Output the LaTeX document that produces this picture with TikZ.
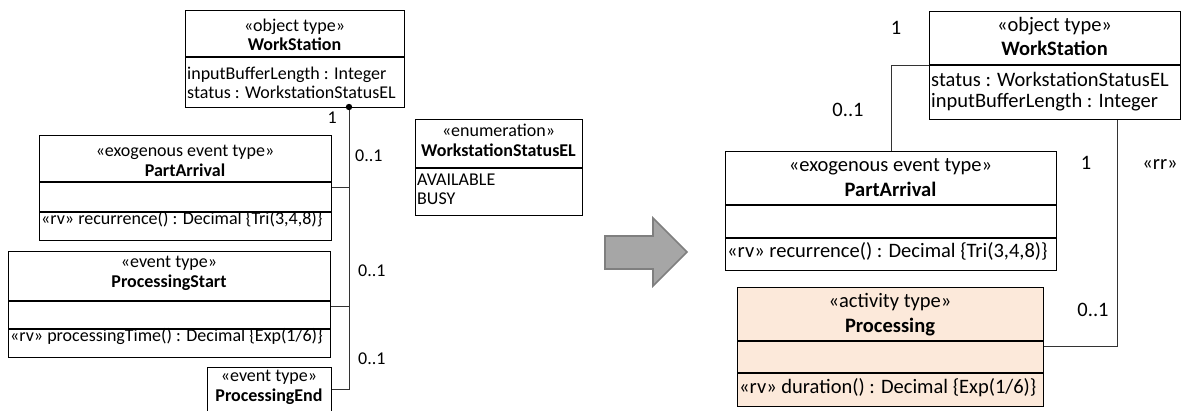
\documentclass[tikz,border=0pt]{standalone}
\usepackage{fontspec}
\setmainfont{Carlito}
\definecolor{peach}{HTML}{FCE9DA}
\definecolor{arrfill}{HTML}{A6A6A6}
\definecolor{arredge}{HTML}{7F7F7F}
\begin{document}
\begin{tikzpicture}[x=1pt,y=-1pt,
  box/.style={draw=black, line width=1.2pt, inner sep=0pt, anchor=north west},
  divline/.style={draw=black, line width=1.2pt},
  conn/.style={draw=black!80, line width=0.9pt},
  lf/.style={font=\fontsize{18}{19}\selectfont},
  rf/.style={font=\fontsize{20.5}{21}\selectfont},
  ct/.style={inner sep=0pt, anchor=base},
  lt/.style={inner sep=0pt, anchor=base west},
  lab/.style={inner sep=0pt, anchor=base}]
\useasboundingbox (0,0) rectangle (1181,411);

% ---------- left side ----------
% WorkStation
\node[box, minimum width=219pt, minimum height=97pt] (ws1) at (185,10) {};
\draw[divline] (185,57) -- (404,57);
\node[ct,lf] (ws1s) at (294.5,32) {«object type»};
\node[ct,lf] (ws1n) at (294.5,51) {\bfseries WorkStation};
\node[lt,lf] (ws1a) at (187,80) {inputBufferLength : Integer};
\node[lt,lf] (ws1b) at (187,99) {status : WorkstationStatusEL};

% PartArrival
\node[box, minimum width=292pt, minimum height=105pt] (pa1) at (39,135) {};
\draw[divline] (39,182) -- (331,182);
\draw[divline] (39,212) -- (331,212);
\node[ct,lf] (pa1s) at (185,157) {«exogenous event type»};
\node[ct,lf] (pa1n) at (185,177) {\bfseries PartArrival};
\node[lt,lf] (pa1o) at (41,225) {«rv» recurrence() : Decimal \{Tri(3,4,8)\}};

% ProcessingStart
\node[box, minimum width=322pt, minimum height=106pt] (ps1) at (8,251) {};
\draw[divline] (8,301) -- (330,301);
\draw[divline] (8,329) -- (330,329);
\node[ct,lf] (ps1s) at (169,268) {«event type»};
\node[ct,lf] (ps1n) at (169,288) {\bfseries ProcessingStart};
\node[lt,lf] (ps1o) at (10,342) {«rv» processingTime() : Decimal \{Exp(1/6)\}};

% ProcessingEnd
\node[box, minimum width=124pt, minimum height=60pt] (pe1) at (207,367) {};
\node[ct,lf] (pe1s) at (269,382) {«event type»};
\node[ct,lf] (pe1n) at (269,402) {\bfseries ProcessingEnd};

% connectors left
\coordinate (jtop) at (349,107);
\coordinate (jpa) at (349,187);
\coordinate (jps) at (349,306);
\coordinate (jpe) at (349,389);
\draw[conn] (jtop) -- (jpe) -- (pe1.east |- jpe);
\draw[conn] (pa1.east |- jpa) -- (jpa);
\draw[conn] (ps1.east |- jps) -- (jps);
\fill[black] (jtop) circle (3.2pt);
\node[lab,lf,anchor=base east] (m1) at (337,124) {1};
\node[lab,lf,anchor=base west] (m2) at (355,162) {0..1};
\node[lab,lf,anchor=base west] (m3) at (358,277) {0..1};
\node[lab,lf,anchor=base west] (m4) at (358,365) {0..1};

% enumeration
\node[box, minimum width=167pt, minimum height=96pt] (en) at (415,119) {};
\draw[divline] (415,168) -- (582,168);
\node[ct,lf] (ens) at (498.5,137) {«enumeration»};
\node[ct,lf] (enn) at (498.5,157) {\bfseries WorkstationStatusEL};
\node[lt,lf] (ena) at (417,186) {AVAILABLE};
\node[lt,lf] (enb) at (417,205) {BUSY};

% big arrow
\draw[fill=arrfill, draw=arredge, line width=1.6pt, line join=miter]
  (605,236) -- (653,236) -- (653,218) -- (687,252) -- (653,286) -- (653,269) -- (605,269) -- cycle;

% ---------- right side ----------
% WorkStation
\node[box, minimum width=251pt, minimum height=108pt] (ws2) at (929,11) {};
\draw[divline] (929,65) -- (1180,65);
\node[ct,rf] (ws2s) at (1054.5,32) {«object type»};
\node[ct,rf] (ws2n) at (1054.5,56) {\bfseries WorkStation};
\node[lt,rf] (ws2a) at (931,87) {status : WorkstationStatusEL};
\node[lt,rf] (ws2b) at (931,108) {inputBufferLength : Integer};

% PartArrival
\node[box, minimum width=331pt, minimum height=119pt] (pa2) at (725,151) {};
\draw[divline] (725,205) -- (1056,205);
\draw[divline] (725,238) -- (1056,238);
\node[ct,rf] (pa2s) at (890.5,172) {«exogenous event type»};
\node[ct,rf] (pa2n) at (890.5,197) {\bfseries PartArrival};
\node[lt,rf] (pa2o) at (727,258) {«rv» recurrence() : Decimal \{Tri(3,4,8)\}};

% Processing
\node[box, fill=peach, minimum width=306pt, minimum height=119pt] (pr2) at (737,287) {};
\draw[divline] (737,341) -- (1043,341);
\draw[divline] (737,373) -- (1043,373);
\node[ct,rf] (pr2s) at (890,308) {«activity type»};
\node[ct,rf] (pr2n) at (890,333) {\bfseries Processing};
\node[lt,rf] (pr2o) at (739,394) {«rv» duration() : Decimal \{Exp(1/6)\}};

% connectors right
\coordinate (rc1) at (891,65);
\draw[conn] (ws2.west |- rc1) -- (rc1) -- (rc1 |- pa2.north);
\coordinate (rc2) at (1117,346);
\draw[conn] (rc2 |- ws2.south) -- (rc2) -- (pr2.east |- rc2);
\node[lab,rf] (r1) at (896,35) {1};
\node[lab,rf] (r2) at (848,117) {0..1};
\node[lab,rf] (r3) at (1086,170) {1};
\node[lab,rf] (r4) at (1160,170) {«rr»};
\node[lab,rf] (r5) at (1093,317) {0..1};
\end{tikzpicture}
\end{document}
